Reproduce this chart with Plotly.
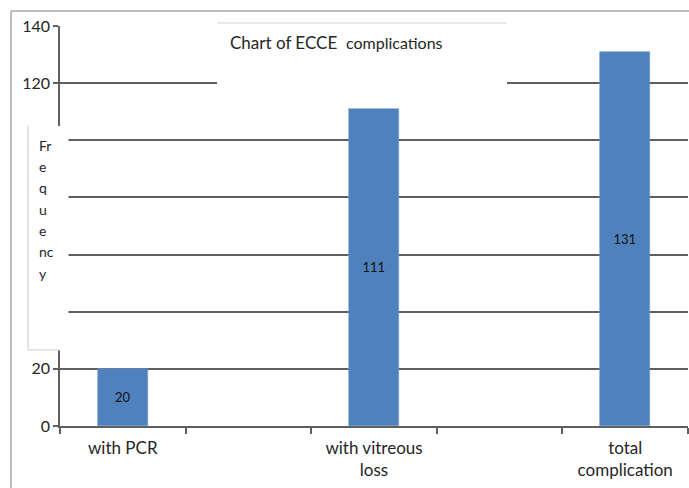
import plotly.graph_objects as go

# Complication counts after ECCE
categories = ["with PCR", "with vitreous<br>loss", "total<br>complication"]
frequency = [20, 111, 131]
slot = [0, 2, 4]  # every other slot on the category axis holds a bar

y_ticks = [0, 20, 40, 60, 80, 100, 120, 140]
# labels 40-100 sit behind the axis-title panel
y_tick_text = ["0", "20", "", "", "", "", "120", "140"]
axis_title_lines = ["Fr", "e", "q", "u", "e", "nc", "y"]

FONT = "Lato, Noto Sans, sans-serif"
TXT = "#262626"
GRID = "#5f5f5f"

W, H = 689, 488
L, R, T, B = 60, 1, 26, 62
PW, PH = W - L - R, H - T - B


def px(x):
    return (x - L) / PW


def py(y):
    return (H - B - y) / PH


fig = go.Figure(
    go.Bar(
        x=slot,
        y=frequency,
        width=0.4,
        marker=dict(color="#4F81BD", line=dict(color="#6f9ad0", width=0.6)),
        text=[str(v) for v in frequency],
        textposition="inside",
        insidetextanchor="middle",
        textfont=dict(family=FONT, size=13, color="#111111"),
        hoverinfo="skip",
    )
)

shapes = [
    # outer frame
    dict(type="line", xref="paper", yref="paper", x0=px(11), x1=px(700),
         y0=py(11), y1=py(11), line=dict(color="#a8a8a8", width=1.5)),
    dict(type="line", xref="paper", yref="paper", x0=px(11), x1=px(11),
         y0=py(11), y1=py(500), line=dict(color="#a8a8a8", width=1.5)),
    # title panel
    dict(type="rect", xref="paper", yref="paper", x0=px(217), x1=px(507),
         y0=py(23), y1=py(85), fillcolor="white", line=dict(width=0), layer="above"),
    dict(type="line", xref="paper", yref="paper", x0=px(217), x1=px(507),
         y0=py(23), y1=py(23), line=dict(color="#d4d4d4", width=1.2), layer="above"),
    # axis-title panel
    dict(type="rect", xref="paper", yref="paper", x0=px(28), x1=px(68.5),
         y0=py(126), y1=py(350), fillcolor="white", line=dict(width=0), layer="above"),
    dict(type="line", xref="paper", yref="paper", x0=px(28), x1=px(28),
         y0=py(126), y1=py(350), line=dict(color="#d4d4d4", width=1.2), layer="above"),
    dict(type="line", xref="paper", yref="paper", x0=px(28), x1=px(60),
         y0=py(350), y1=py(350), line=dict(color="#d4d4d4", width=1.2), layer="above"),
]

annotations = [
    dict(xref="paper", yref="paper", x=px(228), y=py(43), xanchor="left", yanchor="middle",
         showarrow=False,
         text="Chart of ECCE  <span style='font-size:16px'>complications</span>",
         font=dict(family=FONT, size=17, color=TXT)),
]
for i, s in enumerate(axis_title_lines):
    annotations.append(
        dict(xref="paper", yref="paper", x=px(37), y=py(145 + 21.4 * i),
             xanchor="left", yanchor="middle", showarrow=False, text=s,
             font=dict(family=FONT, size=14, color=TXT))
    )

fig.update_layout(
    width=W,
    height=H,
    margin=dict(l=L, r=R, t=T, b=B, pad=0),
    paper_bgcolor="white",
    plot_bgcolor="white",
    showlegend=False,
    bargap=0,
    shapes=shapes,
    annotations=annotations,
    xaxis=dict(
        range=[-0.5, 4.5],
        tickvals=slot,
        ticktext=categories,
        ticks="",
        ticklabelstandoff=6,
        showgrid=False,
        zeroline=False,
        showline=True,
        linecolor=GRID,
        linewidth=1.5,
        tickfont=dict(family=FONT, size=17, color=TXT),
        minor=dict(tickvals=[-0.5, 0.5, 1.5, 2.5, 3.5, 4.5], ticks="outside",
                   ticklen=6, tickwidth=1.5, tickcolor=GRID, showgrid=False),
        fixedrange=True,
    ),
    yaxis=dict(
        range=[0, 140],
        tickvals=y_ticks,
        ticktext=y_tick_text,
        ticks="outside",
        ticklen=5,
        tickwidth=1.5,
        tickcolor=GRID,
        showgrid=True,
        gridcolor=GRID,
        gridwidth=1.5,
        zeroline=False,
        showline=True,
        linecolor=GRID,
        linewidth=1.5,
        tickfont=dict(family=FONT, size=16, color=TXT),
        fixedrange=True,
    ),
)

fig.write_html("out.html")
